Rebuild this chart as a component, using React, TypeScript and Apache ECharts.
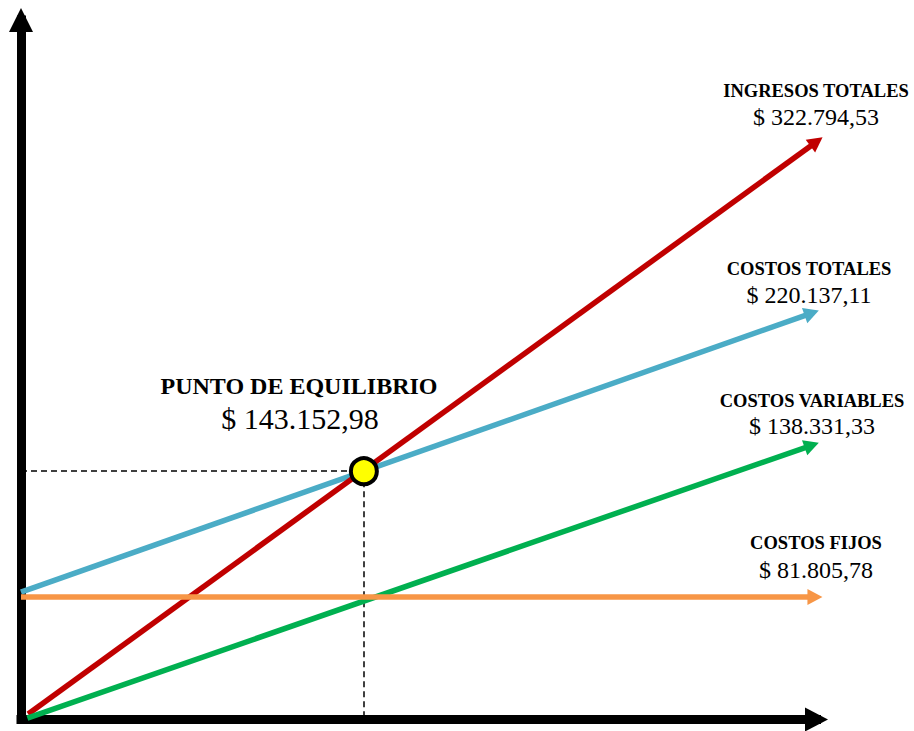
import React, { useEffect, useRef } from "react";
import * as echarts from "echarts";

// Schematic plotting units (chart is not to scale in the original)
const lineNames = ["COSTOS TOTALES", "INGRESOS TOTALES", "COSTOS VARIABLES", "COSTOS FIJOS"];
const lineValueLabels = ["$ 220.137,11", "$ 322.794,53", "$ 138.331,33", "$ 81.805,78"];
const lineColors = ["#4BACC6", "#C00000", "#00B050", "#F79646"];
const startX = [0, 0.9, 0.8, 0];
const startY = [18.2, 0.8, 0.2, 17.5];
const endX = [99.4, 100, 99.4, 99.8];
const endY = [58.1, 82.6, 39.2, 17.5];

const breakevenTitle = "PUNTO DE EQUILIBRIO";
const breakevenLabel = "$ 143.152,98";
const breakevenX = 43.1;
const breakevenY = 35.5;

const FONT = "'Liberation Serif', 'Times New Roman', serif";

export default function App() {
  const ref = useRef<HTMLDivElement>(null);

  useEffect(() => {
    if (!ref.current) return;
    const chart = echarts.init(ref.current, null, { renderer: "svg" });

    const lineSeries = lineNames.map((name, i) => ({
      name,
      type: "line",
      data: [],
      z: 3 + i,
      markLine: {
        silent: true,
        symbol: ["none", "triangle"],
        symbolSize: [16, 15],
        label: { show: false },
        emphasis: { disabled: true },
        lineStyle: { color: lineColors[i], width: 5.5, type: "solid", opacity: 1 },
        data: [[{ coord: [startX[i], startY[i]] }, { coord: [endX[i], endY[i]] }]],
      },
    }));

    // text label positions (pixels)
    const titlePos = [
      { x: 809, y1: 269, y2: 295 },
      { x: 816, y1: 91, y2: 117 },
      { x: 812, y1: 401, y2: 426 },
      { x: 816, y1: 543, y2: 570 },
    ];

    const graphics: any[] = [];
    lineNames.forEach((name, i) => {
      graphics.push({
        type: "text",
        x: titlePos[i].x,
        y: titlePos[i].y1,
        style: {
          text: name,
          font: `bold 18.5px ${FONT}`,
          fill: "#000",
          align: "center",
          verticalAlign: "middle",
        },
      });
      graphics.push({
        type: "text",
        x: titlePos[i].x,
        y: titlePos[i].y2,
        style: {
          text: lineValueLabels[i],
          font: `24px ${FONT}`,
          fill: "#000",
          align: "center",
          verticalAlign: "middle",
        },
      });
    });
    graphics.push({
      type: "text",
      x: 299,
      y: 386,
      style: {
        text: breakevenTitle,
        font: `bold 24px ${FONT}`,
        fill: "#000",
        align: "center",
        verticalAlign: "middle",
      },
    });
    graphics.push({
      type: "text",
      x: 300,
      y: 418,
      style: {
        text: breakevenLabel,
        font: `30px ${FONT}`,
        fill: "#000",
        align: "center",
        verticalAlign: "middle",
      },
    });

    const axisCommon = {
      type: "value",
      min: 0,
      max: 100,
      axisTick: { show: false },
      axisLabel: { show: false },
      splitLine: { show: false },
    };

    chart.setOption({
      animation: false,
      backgroundColor: "#fff",
      grid: { left: 21, right: 97.5, top: 20, bottom: 11.5 },
      xAxis: {
        ...axisCommon,
        axisLine: {
          show: true,
          symbol: ["none", "triangle"],
          symbolSize: [24, 23],
          lineStyle: { color: "#000", width: 9, cap: "square" },
        },
      },
      yAxis: {
        ...axisCommon,
        axisLine: {
          show: true,
          symbol: ["none", "triangle"],
          symbolSize: [24, 24],
          lineStyle: { color: "#000", width: 9, cap: "square" },
        },
      },
      series: [
        {
          name: "guides",
          type: "line",
          data: [],
          z: 2,
          markLine: {
            silent: true,
            symbol: ["none", "none"],
            label: { show: false },
            emphasis: { disabled: true },
            lineStyle: { color: "#000", width: 1.5, type: [6, 4] },
            data: [
              [{ coord: [0, breakevenY] }, { coord: [breakevenX, breakevenY] }],
              [{ coord: [breakevenX, breakevenY] }, { coord: [breakevenX, 0] }],
            ],
          },
        },
        ...lineSeries,
        {
          name: breakevenTitle,
          type: "scatter",
          z: 10,
          symbol: "circle",
          symbolSize: 26,
          itemStyle: { color: "#FFFF00", borderColor: "#000", borderWidth: 4, opacity: 1 },
          data: [[breakevenX, breakevenY]],
        },
      ],
      graphic: graphics,
    });

    return () => chart.dispose();
  }, []);

  return (
    <div
      ref={ref}
      style={{ position: "fixed", left: 0, top: 0, width: 914, height: 731 }}
    />
  );
}
